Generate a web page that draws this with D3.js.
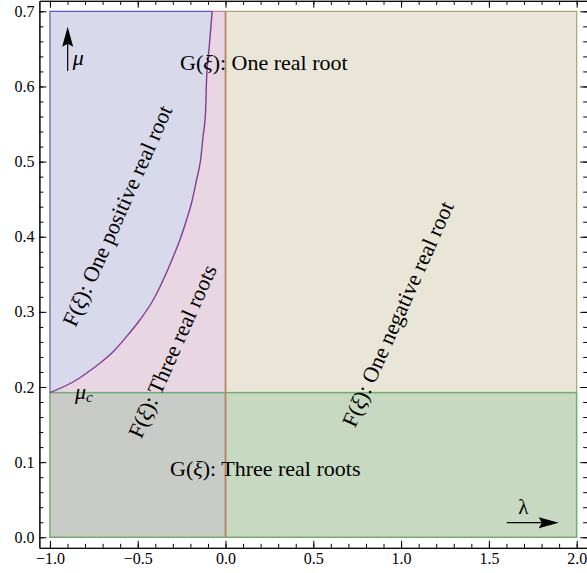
<!DOCTYPE html>
<html>
<head>
<meta charset="utf-8">
<script src="https://d3js.org/d3.v7.min.js"></script>
<style>
body { margin: 0; background: #fff; }
svg, svg text { font-family: "Liberation Serif", "Times New Roman", serif; }
</style>
</head>
<body>
<svg id="chart" width="587" height="573"></svg>
<script>

// boundary between "one positive real root" and "three real roots"
var curveLambda = [-1.0, -0.849, -0.792, -0.716, -0.640, -0.564, -0.488, -0.412, -0.355, -0.298,
                   -0.260, -0.222, -0.194, -0.165, -0.142, -0.128, -0.114, -0.108, -0.092, -0.076];
var curveMu     = [0.1925, 0.2093, 0.2183, 0.2316, 0.2470, 0.2670, 0.2892, 0.3158, 0.3424, 0.3734,
                   0.3957, 0.4223, 0.4445, 0.4755, 0.5021, 0.5331, 0.5643, 0.6086, 0.655, 0.70];

// critical mu (horizontal boundary) and the plotted region
var muC = 0.1925;
var lambdaRange = [-1, 2];
var muRange = [0, 0.7];

// tick values
var xMajorTicks = [-1, -0.5, 0, 0.5, 1, 1.5, 2];
var yMajorTicks = [0, 0.1, 0.2, 0.3, 0.4, 0.5, 0.6, 0.7];
var xMinorTicks = d3.range(-10, 21).map(function(i) { return i / 10; });
var yMinorTicks = d3.range(0, 36).map(function(i) { return i / 50; });

var width = 587;
var height = 573;
var serif = "'Liberation Serif', 'Times New Roman', serif";

var svg = d3.select("#chart")
    .attr("width", width)
    .attr("height", height);

// frame is the plot range plus ~2% padding, like Mathematica
var x = d3.scaleLinear().domain([-1.06, 2.06]).range([39.4, 587.2]);
var y = d3.scaleLinear().domain([-0.014, 0.714]).range([547.8, 0.8]);

var l0 = lambdaRange[0], l1 = lambdaRange[1];
var m0 = muRange[0], m1 = muRange[1];

var curvePts = curveLambda.map(function(l, i) { return [l, curveMu[i]]; });
var curveTop = curvePts[curvePts.length - 1];

var smooth = d3.line()
    .x(function(d) { return x(d[0]); })
    .y(function(d) { return y(d[1]); })
    .curve(d3.curveMonotoneX);
var straight = d3.line()
    .x(function(d) { return x(d[0]); })
    .y(function(d) { return y(d[1]); });

var regions = svg.append("g");

// F: one positive real root (lavender)
regions.append("path")
    .attr("d", smooth(curvePts) + "L" + x(l0) + "," + y(m1) + "Z")
    .attr("fill", "#d9d9ec");

// F: three real roots (pink)
regions.append("path")
    .attr("d", smooth(curvePts) + "L" + x(0) + "," + y(m1) + "L" + x(0) + "," + y(muC) + "Z")
    .attr("fill", "#e8d7e3");

// F: one negative real root (beige)
regions.append("rect")
    .attr("x", x(0)).attr("y", y(m1))
    .attr("width", x(l1) - x(0)).attr("height", y(muC) - y(m1))
    .attr("fill", "#e9e6d8");

// G: three real roots, overlapping the F regions
regions.append("rect")
    .attr("x", x(l0)).attr("y", y(muC))
    .attr("width", x(0) - x(l0)).attr("height", y(m0) - y(muC))
    .attr("fill", "#c9cbc6");
regions.append("rect")
    .attr("x", x(0)).attr("y", y(muC))
    .attr("width", x(l1) - x(0)).attr("height", y(m0) - y(muC))
    .attr("fill", "#c7d9c0");

// region borders
var borders = svg.append("g").attr("fill", "none");

borders.append("path")
    .attr("d", straight([[l0, muC], [l0, m1], [curveTop[0], m1]]))
    .attr("stroke", "#5a5ac0").attr("stroke-width", 1.2);

borders.append("path")
    .attr("d", straight([[curveTop[0], m1], [0, m1]]))
    .attr("stroke", "#c57a9c").attr("stroke-width", 1.2);

borders.append("path")
    .attr("d", straight([[0, m1], [l1, m1], [l1, muC]]))
    .attr("stroke", "#b0a070").attr("stroke-width", 1.2);

borders.append("rect")
    .attr("x", x(l0)).attr("y", y(muC))
    .attr("width", x(l1) - x(l0)).attr("height", y(m0) - y(muC))
    .attr("stroke", "#72ad72").attr("stroke-width", 1.5);

borders.append("path")
    .attr("d", smooth(curvePts))
    .attr("stroke", "#8a3a8e").attr("stroke-width", 1.4);

borders.append("path")
    .attr("d", straight([[0, m0], [0, m1]]))
    .attr("stroke", "#b5865c").attr("stroke-width", 1.8);

// frame with inward ticks
var fmt = d3.format(".1f");

function styleAxis(g) {
    g.attr("font-family", null).attr("font-size", null);
    g.select(".domain").attr("stroke", "#000").attr("stroke-width", 1);
    g.selectAll(".tick line").attr("stroke", "#000").attr("stroke-width", 1);
    g.selectAll("text")
        .style("font-family", serif)
        .style("font-size", "16px")
        .attr("fill", "#000");
}

function addAxis(axisFn, scale, majors, minors, tr, withLabels) {
    svg.append("g")
        .attr("transform", tr)
        .call(axisFn(scale).tickValues(minors).tickSize(-4).tickSizeOuter(0).tickFormat(""))
        .call(styleAxis);
    var ax = axisFn(scale).tickValues(majors).tickSize(-7).tickSizeOuter(0)
        .tickPadding(5)
        .tickFormat(withLabels ? fmt : "");
    svg.append("g")
        .attr("transform", tr)
        .call(ax)
        .call(styleAxis);
}

addAxis(d3.axisBottom, x, xMajorTicks, xMinorTicks, "translate(0," + y.range()[0] + ")", true);
addAxis(d3.axisTop, x, xMajorTicks, xMinorTicks, "translate(0," + y.range()[1] + ")", false);
addAxis(d3.axisLeft, y, yMajorTicks, yMinorTicks, "translate(" + x.range()[0] + ",0)", true);
addAxis(d3.axisRight, y, yMajorTicks, yMinorTicks, "translate(" + x.range()[1] + ",0)", false);

// labels
var labels = svg.append("g")
    .style("font-family", serif)
    .attr("font-size", 22)
    .attr("fill", "#000");

function fxLabel(parent, fname, rest) {
    var t = parent.append("text");
    t.append("tspan").text(fname + "(");
    t.append("tspan").attr("font-style", "italic").text("ξ");
    t.append("tspan").text("): " + rest);
    return t;
}

fxLabel(labels, "G", "One real root")
    .attr("x", x(-0.259)).attr("y", y(0.6224));

fxLabel(labels, "G", "Three real roots")
    .attr("x", x(-0.316)).attr("y", y(0.0812));

var angle = -66;
[
    { l: -0.615, m: 0.4278, text: "One positive real root" },
    { l: -0.302, m: 0.2476, text: "Three real roots" },
    { l: 0.9825, m: 0.2971, text: "One negative real root" }
].forEach(function(d) {
    var g = labels.append("g")
        .attr("transform", "translate(" + x(d.l) + "," + y(d.m) + ") rotate(" + angle + ")");
    fxLabel(g, "F", d.text)
        .attr("text-anchor", "middle")
        .attr("dy", "0.33em");
});

// mu_c
var muLabel = labels.append("text")
    .attr("x", x(-0.857)).attr("y", y(muC) + 6.5);
muLabel.append("tspan").attr("font-style", "italic").text("μ");
muLabel.append("tspan").attr("font-style", "italic").attr("font-size", 15).attr("dy", 3).text("c");

// axis arrows
function arrow(x1, y1, x2, y2) {
    var dx = x2 - x1, dy = y2 - y1;
    var len = Math.sqrt(dx * dx + dy * dy);
    var ux = dx / len, uy = dy / len;
    var px = -uy, py = ux;
    var head = 20, half = 5.5, notch = 3;
    var bx = x2 - ux * head, by = y2 - uy * head;
    svg.append("line")
        .attr("x1", x1).attr("y1", y1).attr("x2", bx + ux * notch).attr("y2", by + uy * notch)
        .attr("stroke", "#000").attr("stroke-width", 1.2);
    svg.append("path")
        .attr("d", "M" + x2 + "," + y2 +
            "L" + (bx + px * half) + "," + (by + py * half) +
            "L" + (bx + ux * notch) + "," + (by + uy * notch) +
            "L" + (bx - px * half) + "," + (by - py * half) + "Z")
        .attr("fill", "#000");
}

arrow(x(-0.899), y(0.6206), x(-0.899), y(0.6795));
arrow(x(1.602), y(0.0194), x(1.898), y(0.0194));

labels.append("text")
    .attr("x", x(-0.87)).attr("y", y(0.6288))
    .attr("font-style", "italic")
    .text("μ");

labels.append("text")
    .attr("x", x(1.668)).attr("y", y(0.0307))
    .attr("font-size", 21)
    .text("λ");

</script>
</body>
</html>
